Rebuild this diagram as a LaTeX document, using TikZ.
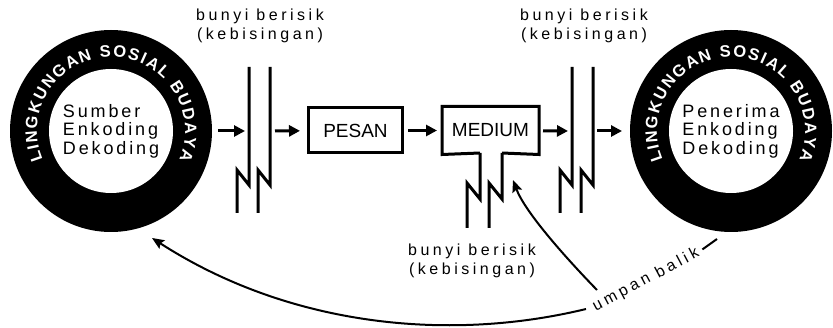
\documentclass[tikz,border=0pt]{standalone}
\usepackage{fontspec}
\setmainfont{Liberation Sans}
\newfontfamily\spacedfont[LetterSpace=22]{Liberation Sans}
\newfontfamily\corefont[LetterSpace=16]{Liberation Sans}
\newfontfamily\ringfont{Liberation Sans}
\usetikzlibrary{arrows.meta,positioning,decorations.text}

\begin{document}
\begin{tikzpicture}[x=1pt,y=1pt]
\tikzstyle{ring}=[circle,fill=black,minimum size=202pt,inner sep=0pt,outer sep=0pt]
\tikzstyle{core}=[circle,fill=white,minimum size=124pt,inner sep=0pt,align=left,font=\corefont\fontsize{18}{18.5}\selectfont]
\tikzstyle{box}=[line width=3pt,minimum width=94pt,minimum height=45pt,inner sep=0pt,outer sep=1.5pt,font=\fontsize{19}{19}\selectfont]
\tikzstyle{flow}=[line width=3pt,-{Triangle[length=11pt,width=11pt]}]
\tikzstyle{noisy}=[line width=3pt]
\tikzstyle{lbl}=[align=center,inner sep=1pt,font=\spacedfont\fontsize{16}{19}\selectfont]
\tikzstyle{feedback}=[line width=2pt,-{Stealth[length=12pt,width=10pt,inset=2pt]}]
\tikzstyle{ringtext}=[decorate,decoration={text along path,text color=white,text align={fit to path},
  text={|\ringfont\bfseries\fontsize{16.5}{16.5}\selectfont|LINGKUNGAN SOSIAL BUDAYA}}]

\useasboundingbox (0,0) rectangle (833,327);

% sumber dan penerima
\node[ring] (srcring) at (111,196) {};
\node[core] (src) at (srcring) {Sumber\\Enkoding\\Dekoding};
\path[ringtext] (srcring.center) ++(203:74) arc[start angle=203,end angle=-23,radius=74];

\node[ring] (dstring) at (731,196) {};
\node[core] (dst) at (dstring) {Penerima\\Enkoding\\Dekoding};
\path[ringtext] (dstring.center) ++(203:74) arc[start angle=203,end angle=-23,radius=74];

% pesan dan medium
\node[box,draw] (pesan) at (355.5,196.5) {PESAN};
\node[box] (medium) at (490.5,196.5) {MEDIUM};
\draw[noisy] (480,174) -- (medium.south west) -- (medium.north west)
  -- (medium.north east) -- (medium.south east) -- (502,174);

% bunyi berisik
\foreach \x in {249,270} \draw[noisy] (\x,260) -- (\x,142) -- (\x-12,157) -- (\x-12,114);
\foreach \x in {572,593} \draw[noisy] (\x,260) -- (\x,142) -- (\x-12,157) -- (\x-12,114);
\foreach \x in {480,502} \draw[noisy] (\x,174) -- (\x,128) -- (\x-13,144) -- (\x-13,99);
\coordinate (nA1) at (249,196);
\coordinate (nA2) at (270,196);
\coordinate (nB1) at (572,196);
\coordinate (nB2) at (593,196);

\node[lbl] (lblA) at (260,301) {bunyi berisik\\(kebisingan)};
\node[lbl] (lblB) at (584,301) {bunyi berisik\\(kebisingan)};
\node[lbl] (lblC) at (472,66) {bunyi berisik\\(kebisingan)};

% alur
\draw[flow,shorten <=6pt,shorten >=4pt] (srcring) -- (nA1);
\draw[flow,shorten <=5pt,shorten >=7pt] (nA2) -- (pesan);
\draw[flow,shorten <=4pt,shorten >=5pt] (pesan) -- (medium);
\draw[flow,shorten <=4pt,shorten >=4pt] (medium) -- (nB1);
\draw[flow,shorten <=4pt,shorten >=8pt] (nB2) -- (dstring);

% umpan balik
\node[lbl,rotate=28] (umpan) at (646,47) {umpan balik};
\coordinate (fbtop) at (717,88);
\coordinate (fbup) at (597,37);
\coordinate (fblow) at (586,18);
\coordinate (tipmed) at (513,147);
\coordinate (tipsrc) at (152,89);
\draw[line width=2pt,shorten <=4pt] (umpan.east) -- (fbtop);
\draw[feedback] (fbup) .. controls (565,70) and (525,115) .. (tipmed);
\draw[feedback] (fblow) .. controls (450,-15) and (290,0) .. (tipsrc);
\end{tikzpicture}
\end{document}
